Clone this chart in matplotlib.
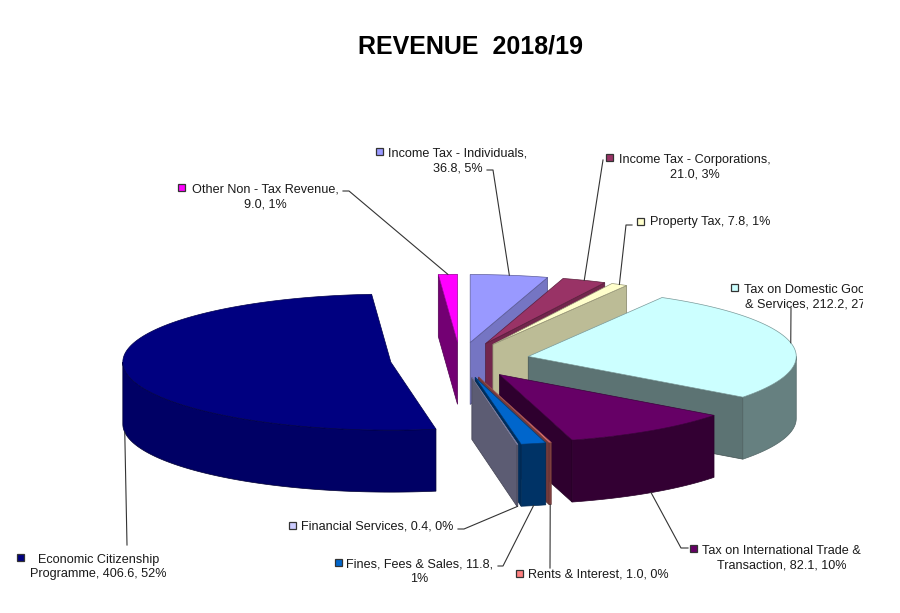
import numpy as np
import matplotlib
matplotlib.use('Agg')
import matplotlib.pyplot as plt
from matplotlib.patches import Polygon, Rectangle
from matplotlib.colors import to_rgb
from matplotlib.transforms import Bbox, TransformedBbox

plt.rcParams['font.family'] = ['Liberation Sans', 'DejaVu Sans']

# dados (ordem das fatias, sentido horario a partir das 12h)
nomes = ['Income Tax - Individuals', 'Income Tax - Corporations', 'Property Tax',
         'Tax on Domestic Goods\n& Services', 'Tax on International Trade &\nTransaction',
         'Rents & Interest', 'Fines, Fees & Sales', 'Financial Services',
         'Economic Citizenship\nProgramme', 'Other Non - Tax Revenue']
valores = [36.8, 21.0, 7.8, 212.2, 82.1, 1.0, 11.8, 0.4, 406.6, 9.0]
cores = ['#9999FF', '#993366', '#FFFFCC', '#CCFFFF', '#660066',
         '#FF8080', '#0066CC', '#CCCCFF', '#000080', '#FF00FF']
formatos = ['{n},\n{v}, {p}%', '{n},\n{v}, {p}%', '{n}, {v}, {p}%', '{n}, {v}, {p}%',
            '{n}, {v}, {p}%', '{n}, {v}, {p}%', '{n}, {v},\n{p}%', '{n}, {v}, {p}%',
            '{n}, {v}, {p}%', '{n},\n{v}, {p}%']

# layout dos rotulos: (x do marcador, y da 1a linha, x do texto, alinhamento)
pos_rotulos = [(379, 151, 458, 'center'), (609, 157, 695, 'center'), (640, 221, 650, 'left'),
               (734, 287, 744, 'left'), (693, 548, 702, 'left'), (519, 573, 528, 'left'),
               (338, 562, 346, 'left'), (292, 525, 301, 'left'), (20, 557, 30, 'left'),
               (181, 187, 192, 'left')]
# pontos de saida das linhas guia (lado do rotulo)
guias = [[(487, 170), (493, 170)], [(603, 160)], [(632, 225), (626, 225)], [(791, 308)],
         [(688, 548), (681, 548)], [(550, 568)], [(498, 566), (503, 566)],
         [(458, 529), (464, 529)], [(127, 545)], [(343, 191), (349, 191)]]

# geometria do "3D"
cx, cy = 460, 360
rx, ry = 268, 68
h = 62
explode = 0.26
inicio = 0.0
entrelinha = 16  # px

total = sum(valores)
pcts = [int(round(v / total * 100)) for v in valores]
angs = inicio + 360 * np.concatenate([[0], np.cumsum(valores)]) / total


def ponto(t, ox, oy, dz=0):
    r = np.radians(t)
    return ox + rx * np.sin(r), oy - ry * np.cos(r) + dz


def arco(a, b, ox, oy, dz=0):
    n = max(int(abs(b - a) / 1.0) + 2, 2)
    ts = np.linspace(a, b, n)
    return [ponto(t, ox, oy, dz) for t in ts]


def escurece(c, f):
    return tuple(np.clip(np.array(to_rgb(c)) * f, 0, 1))


fig = plt.figure(figsize=(9, 6.13), dpi=100)
ax = fig.add_axes([0, 0, 1, 1])
ax.set_xlim(0, 900)
ax.set_ylim(613, 0)
ax.axis('off')

fatias = []
for i in range(len(valores)):
    a, b = angs[i], angs[i + 1]
    m = (a + b) / 2
    ox = cx + explode * rx * np.sin(np.radians(m))
    oy = cy - explode * ry * np.cos(np.radians(m))
    prof = oy - ry * np.cos(np.radians(m))
    fatias.append((prof, i, a, b, m, ox, oy))

z = 2
for prof, i, a, b, m, ox, oy in sorted(fatias):
    cor = cores[i]
    # faces radiais
    faces = []
    if np.sin(np.radians(a)) < -1e-6:
        faces.append((a, a - 90))
    if np.sin(np.radians(b)) > 1e-6:
        faces.append((b, b + 90))
    for t, nrm in faces:
        f = 0.45 + 0.33 * max(0, np.sin(np.radians(nrm)))
        px, py = ponto(t, ox, oy)
        poly = [(ox, oy), (px, py), (px, py + h), (ox, oy + h)]
        ax.add_patch(Polygon(poly, closed=True, fc=escurece(cor, f),
                             ec=escurece(cor, f * 0.7), lw=0.5, zorder=z))
        z += 1
    # face externa (so a parte da frente)
    t1, t2 = max(a, 90), min(b, 270)
    if t1 < t2:
        f = 0.5 + 0.45 * max(0, -np.sin(np.radians((t1 + t2) / 2)))
        poly = arco(t1, t2, ox, oy) + arco(t2, t1, ox, oy, h)
        ax.add_patch(Polygon(poly, closed=True, fc=escurece(cor, f),
                             ec=escurece(cor, 0.4), lw=0.5, zorder=z))
        z += 1
    # topo
    poly = [(ox, oy)] + arco(a, b, ox, oy)
    ax.add_patch(Polygon(poly, closed=True, fc=cor, ec=escurece(cor, 0.6),
                         lw=0.5, zorder=z))
    z += 1

# caixa de recorte do rotulo cortado (em pixels da figura)
recorte = TransformedBbox(Bbox([[0, 0], [8.63, 6.13]]), fig.dpi_scale_trans)

# rotulos
for i, (mx, y1, tx, ha) in enumerate(pos_rotulos):
    txt = formatos[i].format(n=nomes[i], v=f'{valores[i]:.1f}', p=pcts[i])
    nlin = txt.count('\n')
    t = ax.text(tx, y1 + 4.3 + nlin * entrelinha, txt, ha=ha, va='baseline',
                multialignment='center', fontsize=9.1, color='#1a1a1a',
                linespacing=1.28, zorder=50)
    if i == 3:
        t.set_clip_box(recorte)
        t.set_clip_on(True)
    ax.add_patch(Rectangle((mx - 3.5, y1 - 3.5), 7, 7, fc=cores[i], ec='#333333',
                           lw=0.9, zorder=50))
    # linha guia ate a fatia
    a, b = angs[i], angs[i + 1]
    m = (a + b) / 2
    ox = cx + explode * rx * np.sin(np.radians(m))
    oy = cy - explode * ry * np.cos(np.radians(m))
    dz = h if np.cos(np.radians(m)) < 0 else 0
    ancora = ponto(m, ox, oy, dz)
    pts = guias[i] + [ancora]
    ax.plot([p[0] for p in pts], [p[1] for p in pts], color='#333333', lw=0.8, zorder=49)

ax.text(470, 47, 'REVENUE  2018/19', ha='center', va='center', fontsize=18,
        fontweight='bold', color='black')

fig.savefig('out.png', dpi=100)
